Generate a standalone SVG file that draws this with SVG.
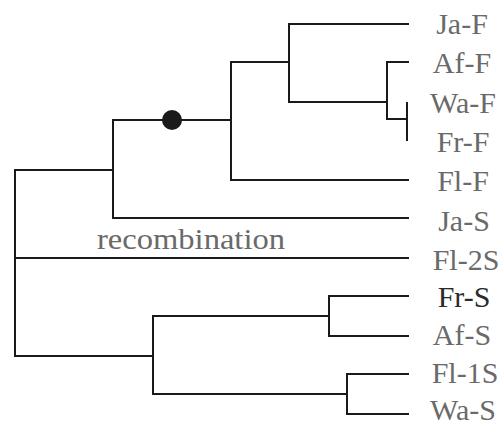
<svg xmlns="http://www.w3.org/2000/svg" width="501" height="428" viewBox="0 0 501 428">
<style>
.e{stroke:#1a1a1a;stroke-width:2;fill:none;stroke-linecap:square}
.l{font-family:'Liberation Serif','Times New Roman','DejaVu Serif','Noto Serif',serif;font-size:30px;fill:#6a6a6a;text-anchor:middle}
.r{font-family:'Liberation Serif','Times New Roman','DejaVu Serif','Noto Serif',serif;font-size:30px;fill:#6a6a6a}
.d{fill:#1a1a1a}
.k{fill:#2a2a2a}
</style>
<rect width="501" height="428" fill="#ffffff"/>
<g id="connectors">
<path class="e" d="M15,170V356M15,170H113M15,258H408M15,356H153"/>
<path class="e" d="M113,120V218M113,218H408M113,120H231"/>
<path class="e" d="M231,62V180M231,180H408M231,62H289"/>
<path class="e" d="M289,24V102M289,24H408M289,102H387"/>
<path class="e" d="M387,62V119M387,62H408M387,119H407M407,103V140"/>
<path class="e" d="M153,316V394M153,316H329M153,394H347"/>
<path class="e" d="M329,296V336M329,296H408M329,336H408"/>
<path class="e" d="M347,374V414M347,374H408M347,414H408"/>
</g>
<g id="event"><circle class="d" cx="172" cy="120" r="10"/></g>
<g id="recombination"><text class="r" x="97" y="249" textLength="188" lengthAdjust="spacingAndGlyphs">recombination</text></g>
<g id="leaf-JaF"><text class="l" x="462" y="34">Ja-F</text></g>
<g id="leaf-AfF"><text class="l" x="462" y="73">Af-F</text></g>
<g id="leaf-WaF"><text class="l" x="463" y="113">Wa-F</text></g>
<g id="leaf-FrF"><text class="l" x="463" y="152">Fr-F</text></g>
<g id="leaf-FlF"><text class="l" x="463" y="191">Fl-F</text></g>
<g id="leaf-JaS"><text class="l" x="464" y="231">Ja-S</text></g>
<g id="leaf-Fl2S"><text class="l" x="466" y="270">Fl-2S</text></g>
<g id="leaf-FrS"><text class="l k" x="464" y="307">Fr-S</text></g>
<g id="leaf-AfS"><text class="l" x="462" y="345">Af-S</text></g>
<g id="leaf-Fl1S"><text class="l" x="465" y="383">Fl-1S</text></g>
<g id="leaf-WaS"><text class="l" x="463" y="420">Wa-S</text></g>
</svg>
